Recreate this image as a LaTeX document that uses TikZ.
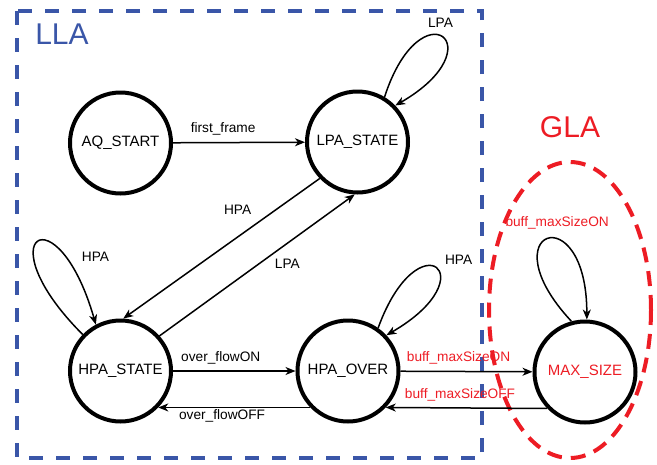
\documentclass[tikz,border=0pt]{standalone}
\usepackage{fontspec}
\setmainfont{Liberation Sans}
\usepackage{xcolor}
\usepackage{tikz}
\usetikzlibrary{positioning,shapes,arrows.meta}
\definecolor{llablue}{HTML}{3A56A8}
\definecolor{glared}{HTML}{ED1C24}
\tikzset{
    state/.style={circle, draw, line width=4pt, minimum size=101pt, inner sep=0pt, font=\fontsize{15}{18}\selectfont},
    trans/.style={line width=1.5pt, -{Stealth[length=10pt, width=8pt, inset=3pt]}},
    trans label/.style={font=\fontsize{13.7}{16}\selectfont, text=black},
    area/.style={line width=4pt, dash pattern=on 14pt off 13pt}
}

\begin{document}
\begin{tikzpicture}[x=1pt, y=1pt]
    \useasboundingbox (0,0) rectangle (657,-464);

    % the two areas
    \draw[area, llablue] (17,-11) rectangle (482,-458);
    \node[font=\fontsize{30}{36}\selectfont, text=llablue] (lla) at (62,-34) {LLA};
    \draw[area, glared, dash pattern=on 15pt off 9pt] (570,-310) ellipse [x radius=81, y radius=148];
    \node[font=\fontsize{30}{36}\selectfont, text=glared] (gla) at (570,-127) {GLA};

    % states
    \node[state] (aq) at (120.5,-143) {AQ\_START};
    \node[state] (lpa) at (357.5,-142) {LPA\_STATE};
    \node[state] (hpa) at (120.5,-371) {HPA\_STATE};
    \node[state] (hover) at (348,-371) {HPA\_OVER};
    \node[state, text=glared] (maxs) at (585,-372) {MAX\_SIZE};

    % transitions
    \draw[trans] (aq) -- (lpa) node[pos=0.38, above=3pt, trans label] {first\_frame};
    \draw[trans] (lpa.59) to[out=72, in=30, distance=118pt] node[pos=0.48, above=5pt, trans label] {LPA} (lpa.44);
    \draw[trans] (lpa.224) -- (hpa.87) node[pos=0.31, above left=5pt, trans label] {HPA};
    \draw[trans] (hpa.42) -- (lpa.267) node[pos=0.57, below right, trans label] {LPA};
    \draw[trans] (hpa.136) to[out=135, in=106, distance=140pt] node[pos=0.72, right=18pt, yshift=-6pt, trans label] {HPA} (hpa.118);
    \draw[trans] (hpa) -- (hover) node[pos=0.39, above=3pt, trans label] {over\_flowON};
    \draw[trans] (hover.224) -- (hpa.316) node[pos=0.58, below, inner sep=1pt, trans label] {over\_flowOFF};
    \draw[trans] (hover.55) to[out=70, in=30, distance=118pt] node[pos=0.55, above right=4pt, trans label] {HPA} (hover.43);
    \draw[trans] (hover) -- (maxs) node[pos=0.44, above=3pt, trans label, text=glared] {buff\_maxSizeON};
    \draw[trans] (maxs.224) -- (hover.316) node[pos=0.54, above=3pt, trans label, text=glared] {buff\_maxSizeOFF};
    \draw[trans] (maxs.105) to[out=133, in=90, distance=125pt] node[pos=0.5, above=6pt, xshift=10pt, trans label, text=glared] {buff\_maxSizeON} (maxs.88);

\end{tikzpicture}
\end{document}
